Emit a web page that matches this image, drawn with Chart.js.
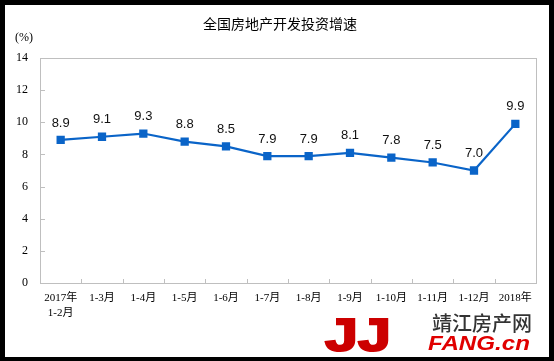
<!DOCTYPE html>
<html><head><meta charset="utf-8">
<script src="https://cdn.jsdelivr.net/npm/chart.js@4.4.1/dist/chart.umd.min.js"></script>
<style>html,body{margin:0;padding:0;background:#000;}#w{width:554px;height:361px;position:relative;}</style>
</head><body><div id="w"><canvas id="c" width="554" height="361"></canvas></div>
<script>
const categories = [['2017年','1-2月'],'1-3月','1-4月','1-5月','1-6月','1-7月','1-8月','1-9月','1-10月','1-11月','1-12月','2018年'];
const growth = [8.9, 9.1, 9.3, 8.8, 8.5, 7.9, 7.9, 8.1, 7.8, 7.5, 7.0, 9.9];
const yTicks = [0, 2, 4, 6, 8, 10, 12, 14];
const titleText = '全国房地产开发投资增速';
const unitText = '(%)';

const decor = {
  id: 'decor',
  beforeDraw(chart) {
    const ctx = chart.ctx;
    ctx.save();
    ctx.fillStyle = '#000';
    ctx.fillRect(0, 0, 554, 361);
    ctx.fillStyle = '#fff';
    ctx.fillRect(5, 5, 544, 352);
    ctx.restore();
  },
  afterDraw(chart) {
    const ctx = chart.ctx;
    const a = chart.chartArea;
    const xs = chart.scales.x, ys = chart.scales.y;
    ctx.save();
    ctx.strokeStyle = '#bfbfbf';
    ctx.lineWidth = 1;
    ctx.strokeRect(Math.round(a.left) + 0.5, Math.round(a.top) + 0.5, Math.round(a.right - a.left), Math.round(a.bottom - a.top));
    ctx.beginPath();
    yTicks.forEach(v => {
      const y = Math.round(ys.getPixelForValue(v)) + 0.5;
      ctx.moveTo(a.left, y); ctx.lineTo(a.left + 5, y);
    });
    const half = (xs.getPixelForValue(1) - xs.getPixelForValue(0)) / 2;
    for (let i = 1; i < categories.length; i++) {
      const x = Math.round(xs.getPixelForValue(i) - half) + 0.5;
      ctx.moveTo(x, a.bottom); ctx.lineTo(x, a.bottom - 4);
    }
    ctx.stroke();
    ctx.fillStyle = '#000';
    ctx.font = '14px "Noto Sans CJK SC", sans-serif';
    ctx.textAlign = 'center';
    ctx.textBaseline = 'middle';
    ctx.fillText(titleText, 280, 24);
    ctx.font = '12px "Liberation Serif", "Noto Sans CJK SC", serif';
    ctx.fillText(unitText, 24, 38);
    const meta = chart.getDatasetMeta(0);
    ctx.font = '13px "Liberation Sans", Arial, sans-serif';
    ctx.fillStyle = '#111';
    meta.data.forEach((p, i) => {
      ctx.fillText(growth[i].toFixed(1), p.x, p.y - 17);
    });
    // logo
    ctx.fillStyle = '#cc0000';
    ctx.strokeStyle = '#cc0000';
    ctx.lineWidth = 2;
    ctx.font = 'bold 46px "Liberation Sans", Arial, sans-serif';
    ctx.textAlign = 'left';
    ctx.textBaseline = 'alphabetic';
    let w = ctx.measureText('JJ').width;
    ctx.save();
    ctx.translate(325, 351);
    ctx.scale(66 / w, 1);
    ctx.fillText('JJ', 0, 0);
    ctx.strokeText('JJ', 0, 0);
    ctx.restore();
    ctx.fillStyle = '#333';
    ctx.font = '500 20px "Noto Sans CJK SC", sans-serif';
    w = ctx.measureText('靖江房产网').width;
    ctx.save();
    ctx.translate(432, 331);
    ctx.scale(100 / w, 1);
    ctx.fillText('靖江房产网', 0, 0);
    ctx.restore();
    ctx.fillStyle = '#e00000';
    ctx.font = 'italic bold 20px "Liberation Sans", Arial, sans-serif';
    w = ctx.measureText('FANG.cn').width;
    ctx.save();
    ctx.translate(428, 350);
    ctx.scale(102 / w, 1);
    ctx.fillText('FANG.cn', 0, 0);
    ctx.restore();
    ctx.restore();
  }
};

new Chart(document.getElementById('c'), {
  type: 'line',
  data: {
    labels: categories,
    datasets: [{
      data: growth,
      borderColor: '#0a64c8',
      backgroundColor: '#0a64c8',
      borderWidth: 2.2,
      pointStyle: 'rect',
      pointRadius: 4.3,
      pointHoverRadius: 4.3,
      tension: 0,
      fill: false
    }]
  },
  options: {
    responsive: false,
    animation: false,
    devicePixelRatio: 1,
    layout: { padding: { left: 0, right: 18, top: 58, bottom: 0 } },
    plugins: { legend: { display: false }, tooltip: { enabled: false }, title: { display: false } },
    scales: {
      x: {
        offset: true,
        grid: { display: false, drawTicks: false },
        border: { display: false },
        ticks: {
          color: '#000',
          font: { family: '"Liberation Serif", "Noto Sans CJK SC", serif', size: 11, lineHeight: 1.35 },
          padding: 8,
          maxRotation: 0,
          autoSkip: false
        },
        afterFit(s) { s.height = 361 - 283; }
      },
      y: {
        min: 0, max: 14,
        afterBuildTicks(s) { s.ticks = yTicks.map(v => ({ value: v })); },
        grid: { display: false, drawTicks: false },
        border: { display: false },
        ticks: {
          color: '#000',
          font: { family: '"Liberation Serif", "Times New Roman", serif', size: 12 },
          padding: 12
        },
        afterFit(s) { s.width = 40; }
      }
    }
  },
  plugins: [decor]
});
</script>
</body></html>
